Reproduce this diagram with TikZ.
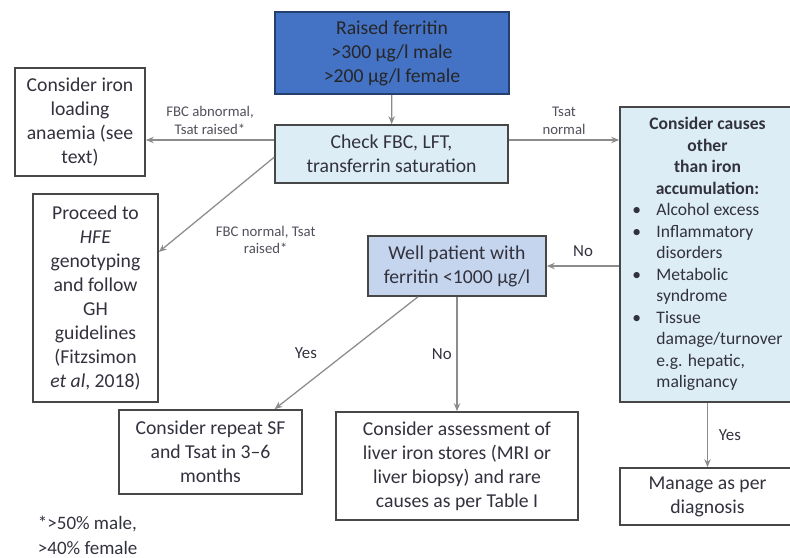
\documentclass[tikz,border=0pt]{standalone}
\usepackage{fontspec}
\setmainfont{Carlito}
\usetikzlibrary{arrows.meta, positioning}
\definecolor{ferritincolor}{RGB}{68,114,196}
\definecolor{checkcolor}{RGB}{221,237,245}
\definecolor{wellcolor}{RGB}{198,213,238}
\definecolor{linecolor}{RGB}{140,140,140}
\definecolor{textcolor}{RGB}{50,50,62}

\begin{document}
\begin{tikzpicture}[
    x=0.025cm, y=-0.025cm,
    box/.style={draw=black!72, line width=1.1pt, fill=#1, align=center, text=textcolor, font=\fontsize{14}{17}\selectfont, inner sep=2pt},
    box/.default=white,
    arrow/.style={-{Stealth[length=2mm, width=1.6mm]}, draw=linecolor, line width=0.9pt},
    lbl/.style={font=\fontsize{10.5}{12.5}\selectfont, text=textcolor!85, align=center},
    yesno/.style={font=\fontsize{12}{14}\selectfont, text=textcolor}
]
    \useasboundingbox (0,0) rectangle (790,558);

    \node[box=ferritincolor, draw=ferritincolor!55!black, text=black!85, minimum width=5.85cm, minimum height=2.05cm] (raised) at (392,53) {Raised ferritin\\>300 µg/l male\\>200 µg/l female};
    \node[box=checkcolor, minimum width=5.825cm, minimum height=1.45cm] (check) at (391.5,154) {Check FBC, LFT,\\transferrin saturation};
    \node[box, minimum width=3.25cm, minimum height=2.7cm] (anaemia) at (80,122) {Consider iron\\loading\\anaemia (see\\text)};
    \node[box, minimum width=3.125cm, minimum height=5.2cm] (proceed) at (95.5,298) {Proceed to\\\textit{HFE}\\genotyping\\and follow\\GH\\guidelines\\(Fitzsimon\\\textit{et al}, 2018)};
    \node[box=checkcolor, minimum width=4.375cm, minimum height=7.375cm, font=\fontsize{12.5}{15.3}\selectfont] (causes) at (707.5,254.5) {%
        \begin{tabular}{@{}p{0.6cm}@{}l@{}}
        \multicolumn{2}{c}{\bfseries Consider causes}\\
        \multicolumn{2}{c}{\bfseries other}\\
        \multicolumn{2}{c}{\bfseries than iron}\\
        \multicolumn{2}{c}{\bfseries accumulation:}\\
        \textbullet & Alcohol excess\\
        \textbullet & Inflammatory\\
         & disorders\\
        \textbullet & Metabolic\\
         & syndrome\\
        \textbullet & Tissue\\
         & damage/turnover\\
         & e.g. hepatic,\\
         & malignancy
        \end{tabular}};
    \node[box=wellcolor, minimum width=4.45cm, minimum height=1.5cm] (well) at (457,266) {Well patient with\\ferritin <1000 µg/l};
    \node[box, minimum width=4.575cm, minimum height=2.1cm] (repeat) at (210.5,452) {Consider repeat SF\\and Tsat in 3–6\\months};
    \node[box, minimum width=6.05cm, minimum height=2.7cm] (liver) at (457,466) {Consider assessment of\\liver iron stores (MRI or\\liver biopsy) and rare\\causes as per Table I};
    \node[box, minimum width=4.375cm, minimum height=1.425cm] (manage) at (707.5,496.5) {Manage as per\\diagnosis};
    \node[anchor=north west, align=left, text=textcolor, font=\fontsize{13.5}{18}\selectfont] (note) at (33,511) {*>50\% male,\\>40\% female};

    \draw[arrow] (raised) -- (check);
    \draw[arrow] ([yshift=0.35cm]check.west) -- node[lbl, above] {FBC abnormal,\\Tsat raised*} ([yshift=0.35cm]check.west -| anaemia.east);
    \draw[arrow] ([yshift=-0.08cm]check.west) -- node[lbl, anchor=north west, xshift=-0.15cm, yshift=-0.4cm] {FBC normal, Tsat\\raised*} ([yshift=1.15cm]proceed.east);
    \draw[arrow] ([yshift=0.35cm]check.east) -- node[lbl, above] {Tsat\\normal} ([yshift=0.35cm]check.east -| causes.west);
    \draw[arrow] (causes.west |- well.east) -- node[yesno, above, yshift=0.1cm] {No} (well.east);
    \draw[arrow] ([xshift=-0.975cm]well.south) -- node[yesno, left=0.6cm] {Yes} ([xshift=1.6cm]repeat.north);
    \draw[arrow] (well) -- node[yesno, left] {No} (liver);
    \draw[arrow] (causes.south -| manage.north) -- node[yesno, right, xshift=0.15cm] {Yes} (manage.north);
\end{tikzpicture}
\end{document}
